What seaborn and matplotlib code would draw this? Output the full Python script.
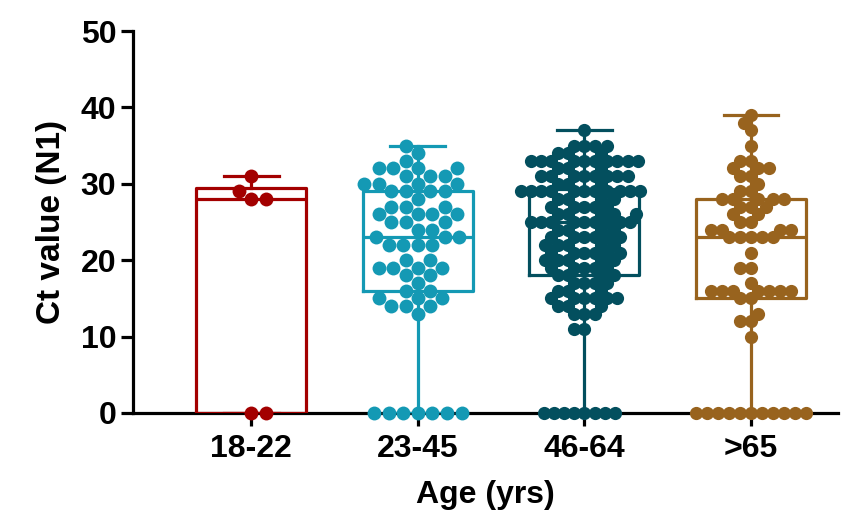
import numpy as np
import pandas as pd
import matplotlib
matplotlib.use('Agg')
import matplotlib.pyplot as plt
import seaborn as sns

# faixas etárias e cores de cada grupo
grupos = ['18-22', '23-45', '46-64', '>65']
cores = ['#A30000', '#1499B4', '#034F5E', '#98631E']

# valores de Ct (N1): valor e quantas amostras têm esse valor
ct_18_22 = [31, 29, 28, 28, 0, 0]

ct_23_45_val = [35, 34, 33, 32, 31, 30, 29, 28, 27, 26, 25, 24, 23, 22, 20, 19, 18, 17, 16, 15, 14, 13, 0]
ct_23_45_n = [1, 1, 1, 4, 3, 4, 4, 1, 3, 4, 3, 2, 3, 4, 2, 4, 2, 1, 2, 3, 3, 1, 7]

ct_46_64_val = [37, 35, 34, 33, 32, 31, 30, 29, 28, 27, 26, 25, 24, 23, 22, 21, 20, 19, 18, 17, 16, 15, 14, 13, 11, 0]
ct_46_64_n = [1, 4, 3, 10, 3, 8, 3, 11, 4, 5, 5, 9, 4, 6, 5, 6, 5, 5, 4, 4, 3, 6, 3, 3, 2, 8]

ct_65_val = [39, 38, 37, 35, 33, 32, 31, 30, 29, 28, 27, 26, 25, 24, 23, 21, 19, 17, 16, 15, 13, 12, 10, 0]
ct_65_n = [1, 1, 1, 1, 2, 3, 2, 1, 2, 5, 3, 2, 2, 4, 5, 1, 2, 1, 7, 2, 1, 2, 1, 11]

# tamanho usado para espalhar os pontos e tamanho final desenhado
# (no Prism os pontos dos grupos densos ficam sobrepostos)
tam_swarm = [10, 10, 7, 7.5]
tam_ponto = [10, 10, 9.5, 9.5]

dados = {
    '18-22': np.array(ct_18_22, dtype=float),
    '23-45': np.repeat(ct_23_45_val, ct_23_45_n).astype(float),
    '46-64': np.repeat(ct_46_64_val, ct_46_64_n).astype(float),
    '>65': np.repeat(ct_65_val, ct_65_n).astype(float),
}

df = pd.concat(
    [pd.DataFrame({'idade': g, 'ct': dados[g]}) for g in grupos],
    ignore_index=True
)

plt.rcParams['font.family'] = ['Liberation Sans', 'DejaVu Sans']
plt.rcParams['font.weight'] = 'bold'
plt.rcParams['axes.labelweight'] = 'bold'

fig = plt.figure(figsize=(8.41, 5.22), dpi=100)
ax = fig.add_axes([0.158, 0.209, 0.838, 0.7316])

# caixas no estilo do Prism: quartis (n+1)p e bigodes do mínimo ao máximo
estat = []
for g in grupos:
    v = dados[g]
    q1, med, q3 = np.percentile(v, [25, 50, 75], method='weibull')
    estat.append({'med': med, 'q1': q1, 'q3': q3,
                  'whislo': v.min(), 'whishi': v.max(), 'fliers': []})

caixas = ax.bxp(estat, positions=range(len(grupos)), widths=0.66,
                capwidths=0.33, showfliers=False, patch_artist=False,
                manage_ticks=False)
for i in range(len(grupos)):
    for parte in ['boxes', 'medians']:
        caixas[parte][i].set(color=cores[i], linewidth=2.3, zorder=2)
    for parte in ['whiskers', 'caps']:
        for linha in caixas[parte][2 * i:2 * i + 2]:
            linha.set(color=cores[i], linewidth=2.3, zorder=2)

for i, g in enumerate(grupos):
    sns.swarmplot(data=df[df['idade'] == g], x='idade', y='ct', order=grupos,
                  color=cores[i], size=tam_swarm[i], ax=ax, zorder=3,
                  clip_on=False, linewidth=0)

ax.set_xlim(-0.71, 3.52)
ax.set_ylim(0, 50)
ax.set_yticks([0, 10, 20, 30, 40, 50])
ax.set_xticks(range(len(grupos)))
ax.set_xticklabels(grupos)

sns.despine(ax=ax)
for lado in ['left', 'bottom']:
    ax.spines[lado].set_linewidth(2.3)
    ax.spines[lado].set_color('black')
    ax.spines[lado].set_zorder(1)

ax.tick_params(axis='both', width=2.3, length=9, labelsize=23, colors='black')
ax.tick_params(axis='y', pad=3)
ax.tick_params(axis='x', pad=6)

ax.set_xlabel('Age (yrs)', fontsize=23, fontweight='bold', labelpad=12)
ax.set_ylabel('Ct value (N1)', fontsize=24, fontweight='bold', labelpad=10)

# primeiro desenho fixa as posições do swarm; depois aumenta os pontos
fig.canvas.draw()
for pontos in ax.collections:
    xy = pontos.get_offsets()
    if len(xy) == 0:
        continue
    i = int(round(float(np.median(xy[:, 0]))))
    pontos.__dict__.pop('draw', None)
    pontos.set_sizes([tam_ponto[i] ** 2])

fig.savefig('out.png', dpi=100)
